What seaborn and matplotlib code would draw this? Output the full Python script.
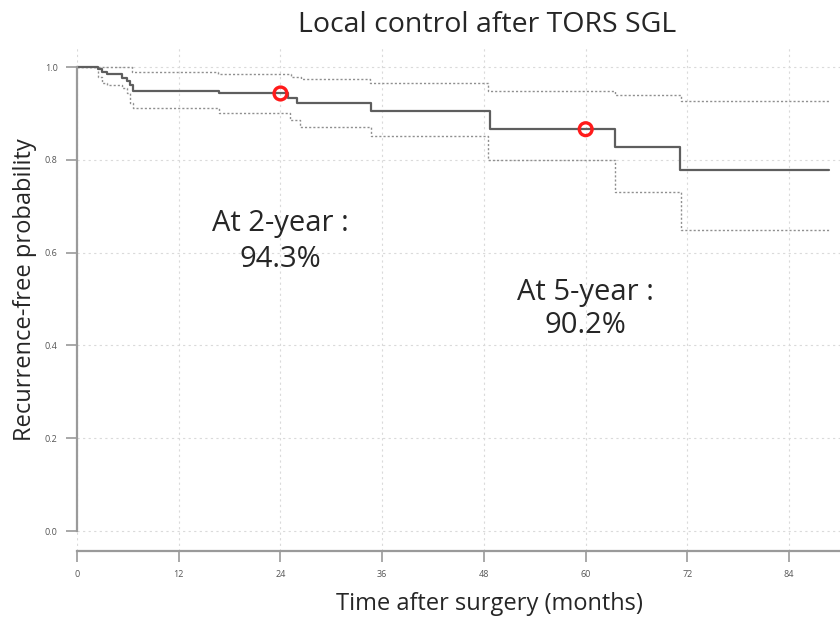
import matplotlib
matplotlib.use("Agg")
import matplotlib.pyplot as plt
import seaborn as sns
import pandas as pd

# Kaplan-Meier estimate (months, probability)
km_time = [0, 2.5, 2.9, 3.5, 5.3, 5.9, 6.3, 6.6, 16.8, 24.9, 25.9, 34.7, 48.7, 63.5, 71.1, 88.7]
km_surv = [1.0, 0.996, 0.990, 0.984, 0.977, 0.970, 0.961, 0.949, 0.943, 0.934, 0.923, 0.906, 0.866, 0.828, 0.778, 0.778]

# 95% confidence band
upper_time = [0, 6.5, 16.6, 25.2, 26.4, 34.6, 48.5, 63.5, 71.2, 88.7]
upper_surv = [1.0, 0.990, 0.984, 0.979, 0.974, 0.965, 0.948, 0.940, 0.927, 0.927]
lower_time = [0, 2.5, 2.9, 3.5, 5.3, 5.9, 6.3, 6.6, 16.8, 25.1, 26.3, 34.7, 48.5, 63.5, 71.2, 88.7]
lower_surv = [1.0, 0.979, 0.965, 0.961, 0.954, 0.943, 0.922, 0.911, 0.900, 0.886, 0.871, 0.852, 0.799, 0.731, 0.649, 0.649]

# highlighted time points
mark_time = [24, 60]
mark_surv = [0.943, 0.866]

x_ticks = [0, 12, 24, 36, 48, 60, 72, 84]
y_ticks = [0.0, 0.2, 0.4, 0.6, 0.8, 1.0]

sns.set_style("white")
plt.rcParams['font.family'] = ['Open Sans', 'DejaVu Sans']

fig = plt.figure(figsize=(8.4, 6.21), dpi=100)
ax = fig.add_axes([0.0917, 0.1127, 0.9083, 0.81])

km = pd.DataFrame({'time': km_time, 'surv': km_surv})
up = pd.DataFrame({'time': upper_time, 'surv': upper_surv})
lo = pd.DataFrame({'time': lower_time, 'surv': lower_surv})

for df in (up, lo):
    sns.lineplot(data=df, x='time', y='surv', ax=ax, estimator=None, sort=False,
                 drawstyle='steps-post', color='#8f8f8f', lw=1.0, linestyle=(0, (1.5, 1.5)))
sns.lineplot(data=km, x='time', y='surv', ax=ax, estimator=None, sort=False,
             drawstyle='steps-post', color='#5e5e5e', lw=1.6)

marks = pd.DataFrame({'time': mark_time, 'surv': mark_surv})
sns.scatterplot(data=marks, x='time', y='surv', ax=ax, s=85, facecolor='none',
                edgecolor='#ff1a1a', linewidth=2.4, zorder=5)

ax.set_xlim(0, 90)
ax.set_ylim(-0.043, 1.041)
ax.set_xticks(x_ticks)
ax.set_yticks(y_ticks)
ax.set_xticklabels([str(t) for t in x_ticks], fontsize=6.5, color='#555555')
ax.set_yticklabels([f"{t:.1f}" for t in y_ticks], fontsize=6.5, color='#555555')
ax.grid(True, color='#dadada', linestyle=(0, (2, 3)), lw=0.8)

for side in ('top', 'right'):
    ax.spines[side].set_visible(False)
ax.spines['left'].set_bounds(0, 1)
ax.spines['left'].set_color('#9a9a9a')
ax.spines['left'].set_linewidth(1.6)
ax.spines['bottom'].set_color('#9a9a9a')
ax.spines['bottom'].set_linewidth(1.6)
ax.tick_params(axis='both', which='both', direction='out', length=8, width=1.2,
               color='#9a9a9a', pad=6, left=True, bottom=True)

ax.set_xlabel('')
ax.set_ylabel('')
fig.text(489 / 840, 1 - 604 / 621, 'Time after surgery (months)', ha='center', va='center', fontsize=17)
fig.text(25 / 840, 1 - 290 / 621, 'Recurrence-free probability', ha='center', va='center',
         rotation=90, fontsize=17)
fig.text(487 / 840, 1 - 25 / 621, 'Local control after TORS SGL', ha='center', va='center', fontsize=20.5)

ax.text(24, 0.624, 'At 2-year :\n94.3%', ha='center', va='center', fontsize=21, linespacing=1.3)
ax.text(60, 0.479, 'At 5-year :\n90.2%', ha='center', va='center', fontsize=21, linespacing=1.2)

fig.savefig('out.png', dpi=100)
